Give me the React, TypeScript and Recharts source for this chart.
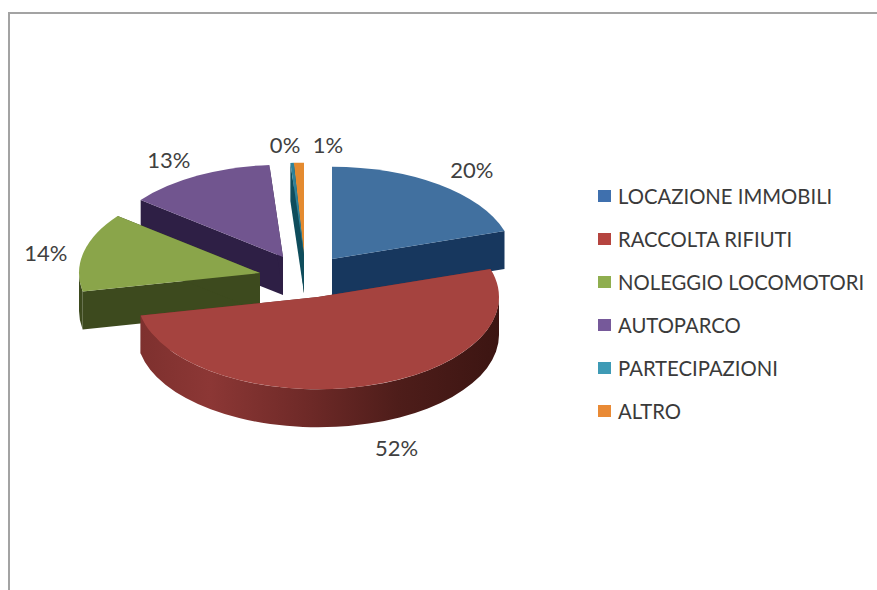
import { PieChart, Pie, Legend } from "recharts";

const CATEGORIES = [
  "LOCAZIONE IMMOBILI",
  "RACCOLTA RIFIUTI",
  "NOLEGGIO LOCOMOTORI",
  "AUTOPARCO",
  "PARTECIPAZIONI",
  "ALTRO",
];
const SHARES = [20.1, 51.7, 13.8, 13.2, 0.3, 0.9];

const LEGEND_COLORS = ["#3f70ae", "#b5443f", "#8fae4f", "#76599a", "#3e9ab5", "#e98a35"];
const TOP_COLORS = ["#41709f", "#a5433f", "#8aa54a", "#71558f", "#2f8299", "#e48a2f"];
const SIDE_COLORS = ["#17375e", "#6f2a28", "#3d4a1e", "#2e1f45", "#0f4d5c", "#8a4f14"];

// how far each slice is pulled out of the centre, px
const EXPLODE = [
  [21, -18],
  [7, 20],
  [-51, -4],
  [-28, -20],
  [-7, -22],
  [-7, -22],
];
// fine placement of the percent labels around the rim
const LABEL_NUDGE = [
  [33, -15],
  [33, 61],
  [-38, 1],
  [-29, -16],
  [-7, -18],
  [29, -18],
];
// back to front
const DRAW_ORDER = [5, 4, 0, 3, 2, 1];

const data = CATEGORIES.map((name, i) => ({ name, value: SHARES[i], idx: i }));

const SQUASH = 0.51;
const DEPTH = 38;
const toRad = (deg: number) => (deg * Math.PI) / 180;

function rimPoint(x0: number, y0: number, r: number, theta: number) {
  return [x0 + r * Math.sin(toRad(theta)), y0 - r * SQUASH * Math.cos(toRad(theta))];
}

function Slice3D(props: any) {
  const { cx, cy, outerRadius: r, startAngle, endAngle, idx } = props;
  const x0 = cx + EXPLODE[idx][0];
  const y0 = cy + EXPLODE[idx][1];
  // clockwise from 12 o'clock
  const t1 = 90 - startAngle;
  const t2 = 90 - endAngle;
  const [ax, ay] = rimPoint(x0, y0, r, t1);
  const [bx, by] = rimPoint(x0, y0, r, t2);
  const ry = r * SQUASH;
  const large = t2 - t1 > 180 ? 1 : 0;

  const top = `M${x0},${y0} L${ax},${ay} A${r},${ry} 0 ${large} 1 ${bx},${by} Z`;
  const faceA = `M${x0},${y0} L${ax},${ay} v${DEPTH} L${x0},${y0 + DEPTH} Z`;
  const faceB = `M${x0},${y0} L${bx},${by} v${DEPTH} L${x0},${y0 + DEPTH} Z`;

  // only the part of the rim that faces the viewer has a wall
  const w1 = Math.max(t1, 90);
  const w2 = Math.min(t2, 270);
  let wall = null;
  if (w2 > w1) {
    const [px, py] = rimPoint(x0, y0, r, w1);
    const [qx, qy] = rimPoint(x0, y0, r, w2);
    wall = `M${px},${py} A${r},${ry} 0 0 1 ${qx},${qy} v${DEPTH} A${r},${ry} 0 0 0 ${px},${py + DEPTH} Z`;
  }
  const side = SIDE_COLORS[idx];
  const gradId = `wall-${idx}`;

  return (
    <g>
      <defs>
        <linearGradient id={gradId} gradientUnits="userSpaceOnUse" x1={x0 - r} x2={x0 + r} y1={0} y2={0}>
          {idx === 1 ? (
            <>
              <stop offset="0" stopColor="#7d302e" />
              <stop offset="0.2" stopColor="#8c3735" />
              <stop offset="0.48" stopColor="#6d2927" />
              <stop offset="0.72" stopColor="#4e1d1a" />
              <stop offset="1" stopColor="#3c1512" />
            </>
          ) : (
            <stop offset="0" stopColor={side} />
          )}
        </linearGradient>
      </defs>
      <path d={faceA} fill={side} />
      <path d={faceB} fill={side} />
      {wall && <path d={wall} fill={`url(#${gradId})`} />}
      <path d={top} fill={TOP_COLORS[idx]} />
    </g>
  );
}

function PercentLabel(props: any) {
  const { cx, cy, outerRadius: r, midAngle, percent, idx } = props;
  const [x, y] = rimPoint(cx + EXPLODE[idx][0], cy + EXPLODE[idx][1], r, 90 - midAngle);
  return (
    <text
      x={x + LABEL_NUDGE[idx][0]}
      y={y + LABEL_NUDGE[idx][1]}
      textAnchor="middle"
      dominantBaseline="central"
      fontFamily="Lato"
      fontSize={22}
      fill="#404040"
    >
      {Math.round(percent * 100)}%
    </text>
  );
}

function LegendList() {
  return (
    <div>
      {CATEGORIES.map((name, i) => (
        <div key={name} style={{ display: "flex", alignItems: "center", height: 43 }}>
          <span style={{ width: 13, height: 12, marginRight: 7, background: LEGEND_COLORS[i] }} />
          <span style={{ fontFamily: "Lato", fontSize: 20.3, color: "#3a3a3a", whiteSpace: "nowrap" }}>{name}</span>
        </div>
      ))}
    </div>
  );
}

export default function App() {
  return (
    <div style={{ position: "absolute", left: 0, top: 0, width: 877, height: 590, background: "#fff", overflow: "hidden" }}>
      {/* frame of the pasted chart, cut off right and below */}
      <div
        style={{
          position: "absolute",
          left: 8,
          top: 12,
          width: 900,
          height: 600,
          borderTop: "2px solid #a3a3a3",
          borderLeft: "2px solid #a3a3a3",
        }}
      />
      <PieChart width={877} height={590} margin={{ top: 0, right: 0, bottom: 0, left: 0 }} style={{ position: "absolute", left: 0, top: 0 }}>
        {DRAW_ORDER.map((layer) => (
          <Pie
            key={layer}
            data={data}
            dataKey="value"
            nameKey="name"
            cx={311}
            cy={277}
            outerRadius={181}
            startAngle={90}
            endAngle={-270}
            stroke="none"
            isAnimationActive={false}
            labelLine={false}
            shape={(p: any) => (p.idx === layer ? <Slice3D {...p} /> : <g />)}
            label={(p: any) => (p.idx === layer ? <PercentLabel {...p} /> : <g />)}
          />
        ))}
        <Legend
          layout="vertical"
          align="right"
          verticalAlign="middle"
          content={<LegendList />}
          wrapperStyle={{ position: "absolute", left: 598, top: 174, width: 279 }}
        />
      </PieChart>
    </div>
  );
}
